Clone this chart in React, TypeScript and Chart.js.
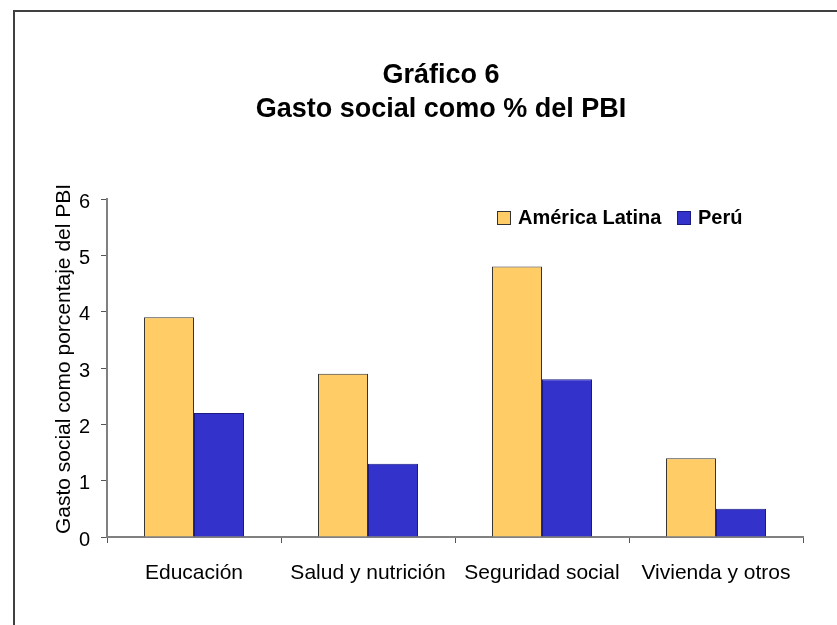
import React, { useEffect, useRef } from "react";
import { Chart, registerables } from "chart.js";

Chart.register(...registerables);

const categories = ["Educación", "Salud y nutrición", "Seguridad social", "Vivienda y otros"];
const seriesNames = ["América Latina", "Perú"];
const americaLatina = [3.9, 2.9, 4.8, 1.4];
const peru = [2.2, 1.3, 2.8, 0.5];
const titleLines = ["Gráfico 6", "Gasto social como % del PBI"];
const yAxisTitle = "Gasto social como porcentaje del PBI";
const yTicks = [0, 1, 2, 3, 4, 5, 6];

const FONT = "'Liberation Sans', Arial, Helvetica, sans-serif";

const textPlugin = {
  id: "customText",
  afterDraw(chart: any) {
    const ctx = chart.ctx;
    ctx.save();
    ctx.fillStyle = "#000";
    // Title
    ctx.font = `bold 27px ${FONT}`;
    ctx.textAlign = "center";
    ctx.textBaseline = "alphabetic";
    ctx.fillText(titleLines[0], 441, 83);
    ctx.fillText(titleLines[1], 441, 117);
    // Y axis title
    ctx.save();
    ctx.font = `21px ${FONT}`;
    ctx.translate(70, 359);
    ctx.rotate(-Math.PI / 2);
    ctx.textAlign = "center";
    ctx.fillText(yAxisTitle, 0, 0);
    ctx.restore();
    // Legend
    ctx.font = `bold 20px ${FONT}`;
    ctx.textAlign = "left";
    const xs = [497, 677];
    chart.data.datasets.forEach((ds: any, i: number) => {
      const x = xs[i];
      ctx.fillStyle = ds.backgroundColor;
      ctx.fillRect(x, 211, 14, 14);
      ctx.strokeStyle = ds.borderColor;
      ctx.lineWidth = 1;
      ctx.strokeRect(x + 0.5, 211.5, 13, 13);
      ctx.fillStyle = "#000";
      ctx.fillText(ds.label, x + 21, 224);
    });
    ctx.restore();
  },
};

export default function App() {
  const ref = useRef<HTMLCanvasElement>(null);
  useEffect(() => {
    if (!ref.current) return;
    const chart = new Chart(ref.current, {
      type: "bar",
      data: {
        labels: categories,
        datasets: [
          {
            label: seriesNames[0],
            data: americaLatina,
            backgroundColor: "#FFCC66",
            borderColor: "#333333",
            borderWidth: 1,
            categoryPercentage: 0.575,
            barPercentage: 1,
          },
          {
            label: seriesNames[1],
            data: peru,
            backgroundColor: "#3333CC",
            borderColor: "#1a1a80",
            borderWidth: 1,
            categoryPercentage: 0.575,
            barPercentage: 1,
          },
        ],
      },
      options: {
        responsive: false,
        animation: false,
        layout: { padding: { left: 0, right: 34, top: 199, bottom: 0 } },
        plugins: {
          legend: { display: false },
          title: { display: false },
          tooltip: { enabled: false },
        },
        scales: {
          x: {
            afterFit: (s: any) => {
              s.height = 88;
            },
            grid: {
              offset: true,
              drawOnChartArea: false,
              tickLength: 6,
              color: "#555",
            },
            border: { color: "#808080", width: 2 },
            ticks: {
              color: "#000",
              font: { family: FONT, size: 21 },
              padding: 18,
              maxRotation: 0,
              autoSkip: false,
            },
          },
          y: {
            min: 0,
            max: 6,
            afterFit: (s: any) => {
              s.width = 107;
            },
            afterBuildTicks: (s: any) => {
              s.ticks = yTicks.map((v) => ({ value: v }));
            },
            grid: {
              drawOnChartArea: false,
              tickLength: 6,
              color: "#555",
            },
            border: { color: "#808080", width: 2 },
            ticks: {
              color: "#000",
              font: { family: FONT, size: 20 },
              padding: 11,
              labelOffset: 3,
            },
          },
        },
      },
      plugins: [textPlugin],
    });
    return () => chart.destroy();
  }, []);

  return (
    <div
      style={{
        position: "fixed",
        left: 0,
        top: 0,
        width: 837,
        height: 625,
        overflow: "hidden",
        background: "#fff",
      }}
    >
      <div
        style={{
          position: "absolute",
          left: 13,
          top: 10,
          width: 900,
          height: 700,
          border: "2px solid #404040",
        }}
      />
      <canvas ref={ref} width={837} height={625} style={{ position: "absolute", left: 0, top: 0 }} />
    </div>
  );
}
